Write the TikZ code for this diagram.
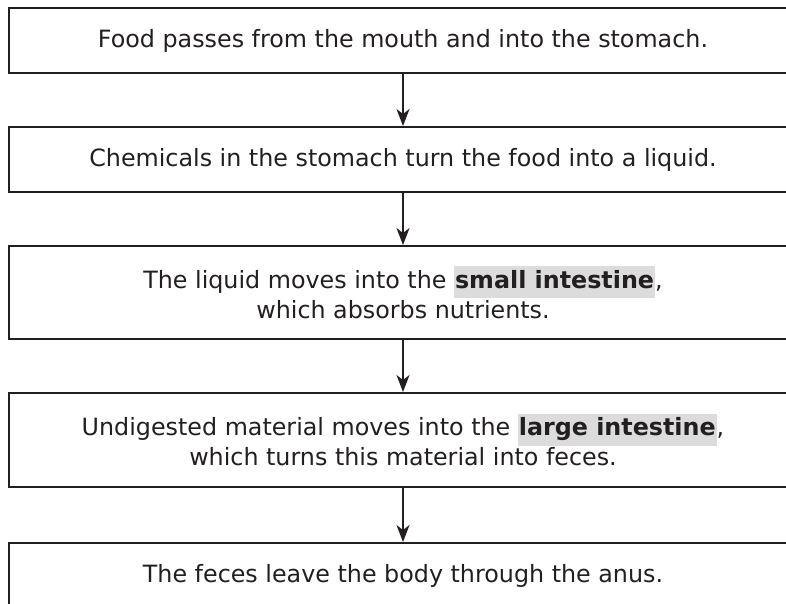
\documentclass[tikz,border=0pt]{standalone}
\usepackage{fontspec}
\setmainfont{DejaVu Sans}
\usetikzlibrary{arrows.meta}
\definecolor{hlgray}{RGB}{220,220,220}
\definecolor{ink}{RGB}{35,31,32}
\newcommand{\hl}[1]{{\setlength{\fboxsep}{1pt}\colorbox{hlgray}{\strut\bfseries #1}}}
\begin{document}
\begin{tikzpicture}[x=1pt,y=-1pt,
  stepbox/.style={draw=ink,line width=2pt,minimum width=788pt,align=center,
    text=ink,font=\fontsize{23.8}{30}\selectfont,inner sep=0pt},
  flow/.style={draw=ink,line width=1.5pt,-{Stealth[length=17pt,width=13pt,inset=5pt]}}]
\useasboundingbox (0,0) rectangle (786,603);
\node[stepbox,minimum height=65pt](step1) at (403,40.5){Food passes from the mouth and into the stomach.};%口から胃へ
\node[stepbox,minimum height=65pt](step2) at (403,159.5){Chemicals in the stomach turn the food into a liquid.};
\node[stepbox,minimum height=93pt](step3) at (403,292.5){The liquid moves into the \hl{small intestine},\\which absorbs nutrients.};
\node[stepbox,minimum height=94pt](step4) at (403,440){Undigested material moves into the \hl{large intestine},\\which turns this material into feces.};
\node[stepbox,minimum height=65pt](step5) at (403,575.5){The feces leave the body through the anus.};%肛門
\draw[flow](step1)--(step2);
\draw[flow](step2)--(step3);
\draw[flow](step3)--(step4);
\draw[flow](step4)--(step5);
\end{tikzpicture}
\end{document}
